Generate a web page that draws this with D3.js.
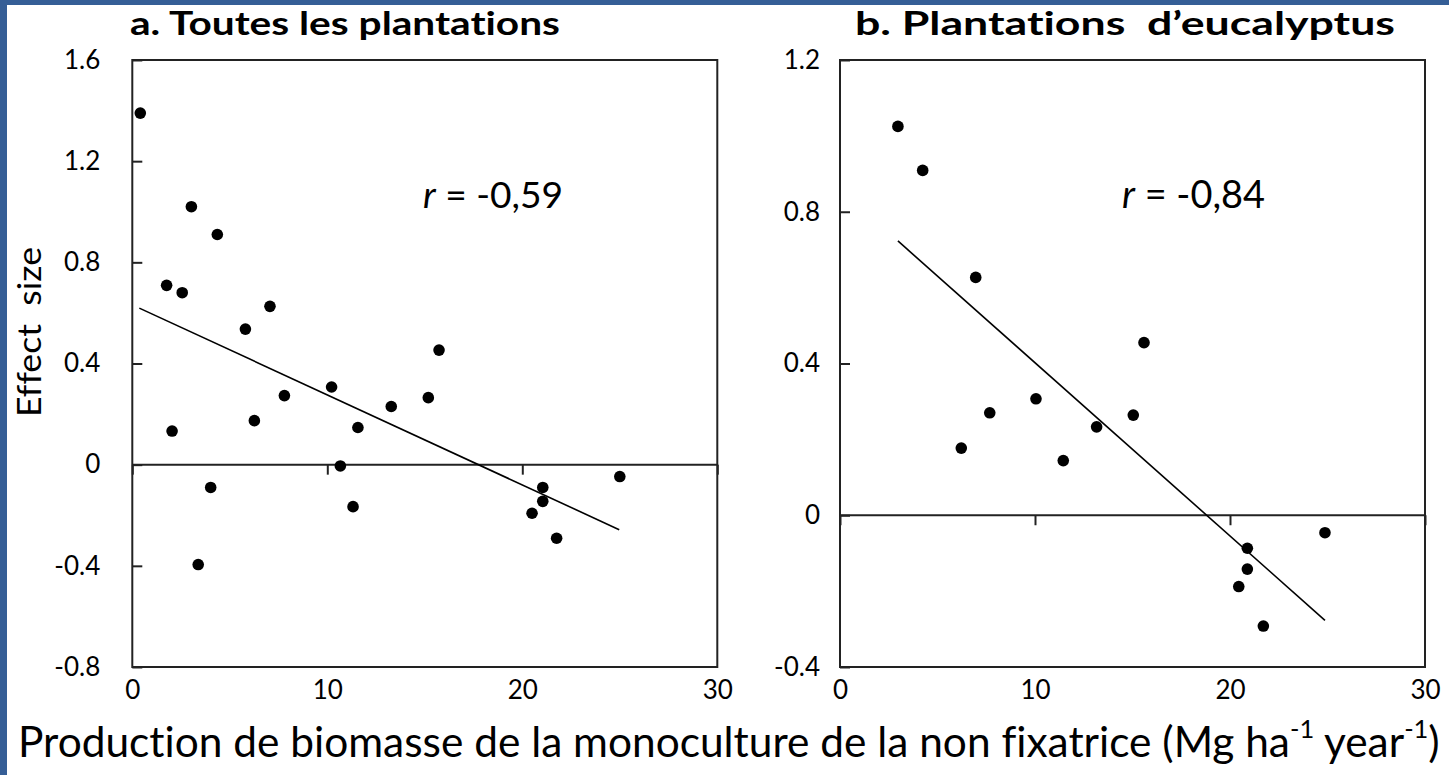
<!DOCTYPE html>
<html><head><meta charset="utf-8">
<script src="https://cdn.jsdelivr.net/npm/d3@7"></script>
<style>
html,body{margin:0;padding:0;background:#fff;}
svg{display:block;font-family:Lato,"Open Sans",sans-serif;}
text{fill:#000;font-variant-ligatures:none;font-feature-settings:"liga" 0,"clig" 0;}
</style></head>
<body>
<script>
// ---- data ----
const aX = [0.41, 1.76, 2.04, 2.56, 3.03, 3.38, 4.02, 4.36, 5.8, 6.26, 7.06, 7.8, 10.22, 10.67, 11.32, 11.57, 13.28, 15.18, 15.73, 20.5, 21.05, 21.05, 21.76, 25.0];
const aY = [1.39, 0.709, 0.133, 0.68, 1.02, -0.395, -0.09, 0.91, 0.536, 0.174, 0.626, 0.273, 0.307, -0.005, -0.166, 0.147, 0.23, 0.265, 0.453, -0.192, -0.09, -0.145, -0.291, -0.047];
const bX = [2.97, 4.24, 6.22, 6.96, 7.68, 10.05, 11.45, 13.16, 15.04, 15.59, 20.45, 20.89, 20.89, 21.71, 24.87];
const bY = [1.025, 0.909, 0.177, 0.627, 0.27, 0.307, 0.144, 0.233, 0.264, 0.455, -0.188, -0.087, -0.142, -0.292, -0.046];
const aLineX = [0.36, 24.97], aLineY = [0.619, -0.257];
const bLineX = [2.97, 24.87], bLineY = [0.723, -0.277];
const xTicks = [0, 10, 20, 30];
const aYTicks = [-0.8, -0.4, 0, 0.4, 0.8, 1.2, 1.6];
const bYTicks = [-0.4, 0, 0.4, 0.8, 1.2];
const titles = ["a. Toutes les plantations", "b. Plantations  d\u2019eucalyptus"];
const rLabels = ["-0,59", "-0,84"];
const yTitle = "Effect  size";

const W = 1449, H = 775;
const svg = d3.select("body").append("svg").attr("width", W).attr("height", H);
svg.append("rect").attr("width", W).attr("height", H).attr("fill", "#fff");
svg.append("rect").attr("x", 0).attr("y", 0).attr("width", W).attr("height", 5).attr("fill", "#355E96");
svg.append("rect").attr("x", 0).attr("y", 0).attr("width", 7).attr("height", H).attr("fill", "#355E96");

function fitWidth(t, target) {
  const w = t.node().getBBox().width;
  const fs = parseFloat(t.attr("font-size"));
  t.attr("font-size", fs * target / w);
}
const fmtY = d => d === 0 ? "0" : d.toFixed(1);

const plotTop = 60, plotBottom = 667;
const panels = [
  {xs: aX, ys: aY, lx: aLineX, ly: aLineY, x0: 132.3, x1: 717.3, ydom: [-0.8, 1.6], yt: aYTicks, pad: 32,
   title: titles[0], tx: 130, tw: 430, r: rLabels[0], rx: 423, rw: 140},
  {xs: bX, ys: bY, lx: bLineX, ly: bLineY, x0: 840, x1: 1425, ydom: [-0.4, 1.2], yt: bYTicks, pad: 20,
   title: titles[1], tx: 855, tw: 540, r: rLabels[1], rx: 1122, rw: 143}
];

panels.forEach(p => {
  const x = d3.scaleLinear().domain([0, 30]).range([p.x0, p.x1]);
  const y = d3.scaleLinear().domain(p.ydom).range([plotBottom, plotTop]);
  const g = svg.append("g");

  const ya = g.append("g").attr("transform", `translate(${p.x0},0)`)
    .call(d3.axisLeft(y).tickValues(p.yt).tickSizeInner(-10).tickSizeOuter(0).tickPadding(p.pad).tickFormat(fmtY));
  ya.select(".domain").remove();
  ya.selectAll("line").attr("stroke", "#222").attr("stroke-width", 2);
  ya.selectAll("text").attr("font-size", 26).attr("font-family", "Lato").attr("fill", "#000");

  g.append("line").attr("x1", p.x0).attr("x2", p.x1).attr("y1", y(0)).attr("y2", y(0))
    .attr("stroke", "#222").attr("stroke-width", 2);
  const xa = g.append("g").attr("transform", `translate(0,${y(0)})`)
    .call(d3.axisBottom(x).tickValues(xTicks).tickSizeInner(10).tickSizeOuter(0).tickFormat(""));
  xa.select(".domain").remove();
  xa.selectAll("line").attr("stroke", "#222").attr("stroke-width", 2);
  const xl = g.append("g").attr("transform", `translate(0,${plotBottom})`)
    .call(d3.axisBottom(x).tickValues(xTicks).tickSize(0).tickPadding(14).tickFormat(d3.format("d")));
  xl.select(".domain").remove();
  xl.selectAll("text").attr("font-size", 26).attr("font-family", "Lato").attr("fill", "#000");

  g.append("rect").attr("x", p.x0).attr("y", plotTop).attr("width", p.x1 - p.x0).attr("height", plotBottom - plotTop)
    .attr("fill", "none").attr("stroke", "#222").attr("stroke-width", 2);

  g.append("line").attr("x1", x(p.lx[0])).attr("y1", y(p.ly[0])).attr("x2", x(p.lx[1])).attr("y2", y(p.ly[1]))
    .attr("stroke", "#000").attr("stroke-width", 1.6);

  g.selectAll("circle").data(p.xs.map((v, i) => [v, p.ys[i]])).join("circle")
    .attr("cx", d => x(d[0])).attr("cy", d => y(d[1])).attr("r", 5.8).attr("fill", "#000");

  svg.append("text").attr("x", p.tx).attr("y", 35).attr("font-size", 32).attr("font-weight", "bold")
    .attr("font-family", "Lato").style("white-space", "pre")
    .attr("textLength", p.tw).attr("lengthAdjust", "spacingAndGlyphs").text(p.title);

  const r = svg.append("text").attr("x", p.rx).attr("y", 208).attr("font-size", 34).attr("font-family", "Lato");
  r.append("tspan").attr("font-style", "italic").text("r");
  r.append("tspan").text(" = " + p.r);
  fitWidth(r, p.rw);
});

svg.append("text").attr("transform", "translate(41,332) rotate(-90)").attr("text-anchor", "middle")
  .attr("font-size", 33).attr("font-family", "Lato").style("white-space", "pre")
  .attr("textLength", 170).attr("lengthAdjust", "spacingAndGlyphs").text(yTitle);

const xt = svg.append("text").attr("x", 18).attr("y", 757).attr("font-size", 30).attr("font-family", "Lato");
xt.append("tspan").text("Production de biomasse de la monoculture de la non fixatrice (Mg ha");
xt.append("tspan").attr("font-size", "0.6em").attr("dy", "-0.75em").text("-1");
xt.append("tspan").attr("dy", "0.45em").text(" year");
xt.append("tspan").attr("font-size", "0.6em").attr("dy", "-0.75em").text("-1");
xt.append("tspan").attr("dy", "0.45em").text(")");
fitWidth(xt, 1422);
</script>
</body></html>
